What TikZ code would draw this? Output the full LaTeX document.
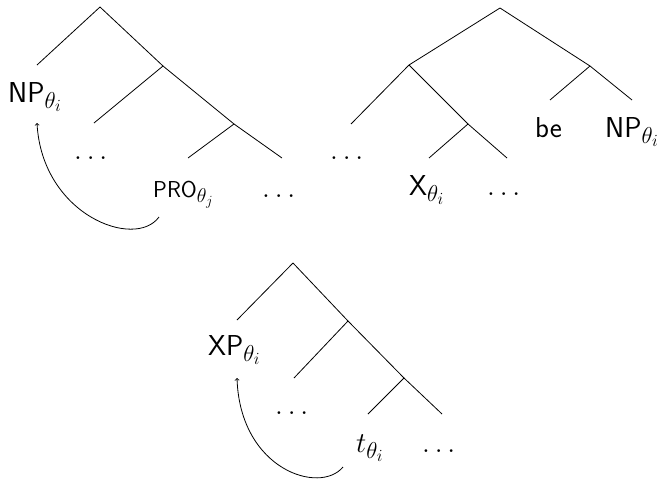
\RequirePackage{fix-cm}
\documentclass[tikz,border=0pt]{standalone}
\usepackage{fontspec}
\DeclareMathSizes{28.8}{28.8}{23}{17}
\DeclareMathSizes{23}{23}{20}{14}
\begin{document}
\begin{tikzpicture}[x=1pt,y=-1pt,
  br/.style={line width=0.8pt},
  lbl/.style={anchor=base west, inner sep=0pt, font=\fontsize{28.8}{34}\selectfont\sffamily},
  sml/.style={anchor=base west, inner sep=0pt, font=\fontsize{23}{27}\selectfont\sffamily},
  mv/.style={->, line width=0.8pt}]
\useasboundingbox (0,0) rectangle (662,479);
% Tree 1
\coordinate (r1) at (100,7);
\coordinate (a1) at (37,65);
\coordinate (b1) at (163,66);
\coordinate (c1) at (94,123);
\coordinate (d1) at (234,124);
\coordinate (e1) at (188,158);
\coordinate (f1) at (282,158);
\draw[br] (r1) -- (a1);
\draw[br] (r1) -- (b1);
\draw[br] (b1) -- (c1);
\draw[br] (b1) -- (d1);
\draw[br] (d1) -- (e1);
\draw[br] (d1) -- (f1);
\node[lbl] (np1) at (8,102) {NP$_{\theta_i}$};
\node[lbl] (dots1a) at (74,159) {$\ldots$};
\node[sml] (pro) at (153,197) {PRO$_{\theta_j}$};
\node[lbl] (dots1b) at (262,197) {$\ldots$};
\coordinate (m1s) at (159,217);
\coordinate (m1t) at (37,123);
\draw[mv] (m1s) .. controls (135,250) and (42,215) .. (m1t);
% Tree 2
\coordinate (r2) at (500,8);
\coordinate (a2) at (409,65);
\coordinate (b2) at (590,66);
\coordinate (c2) at (351,124);
\coordinate (d2) at (468,124);
\coordinate (e2) at (507,158);
\coordinate (f2) at (429,158);
\coordinate (g2) at (550,100);
\coordinate (h2) at (632,100);
\draw[br] (r2) -- (a2);
\draw[br] (r2) -- (b2);
\draw[br] (a2) -- (c2);
\draw[br] (a2) -- (d2);
\draw[br] (d2) -- (f2);
\draw[br] (d2) -- (e2);
\draw[br] (b2) -- (g2);
\draw[br] (b2) -- (h2);
\node[lbl] (dots2a) at (330,159) {$\ldots$};
\node[lbl] (be) at (535,137) {be};
\node[lbl] (np2) at (605,137) {NP$_{\theta_i}$};
\node[lbl] (x2) at (409,195) {X$_{\theta_i}$};
\node[lbl] (dots2b) at (487,195) {$\ldots$};
% Tree 3
\coordinate (r3) at (293,263);
\coordinate (a3) at (237,320);
\coordinate (b3) at (348,321);
\coordinate (c3) at (294,378);
\coordinate (d3) at (404,378);
\coordinate (e3) at (368,414);
\coordinate (f3) at (442,414);
\draw[br] (r3) -- (a3);
\draw[br] (r3) -- (b3);
\draw[br] (b3) -- (c3);
\draw[br] (b3) -- (d3);
\draw[br] (d3) -- (e3);
\draw[br] (d3) -- (f3);
\node[lbl] (xp) at (208,355) {XP$_{\theta_i}$};
\node[lbl] (dots3a) at (275,414) {$\ldots$};
\node[lbl] (t3) at (356,452) {$t_{\theta_i}$};
\node[lbl] (dots3b) at (422,452) {$\ldots$};
\coordinate (m3s) at (343,467);
\coordinate (m3t) at (237,378);
\draw[mv] (m3s) .. controls (320,495) and (240,470) .. (m3t);
\end{tikzpicture}
\end{document}
